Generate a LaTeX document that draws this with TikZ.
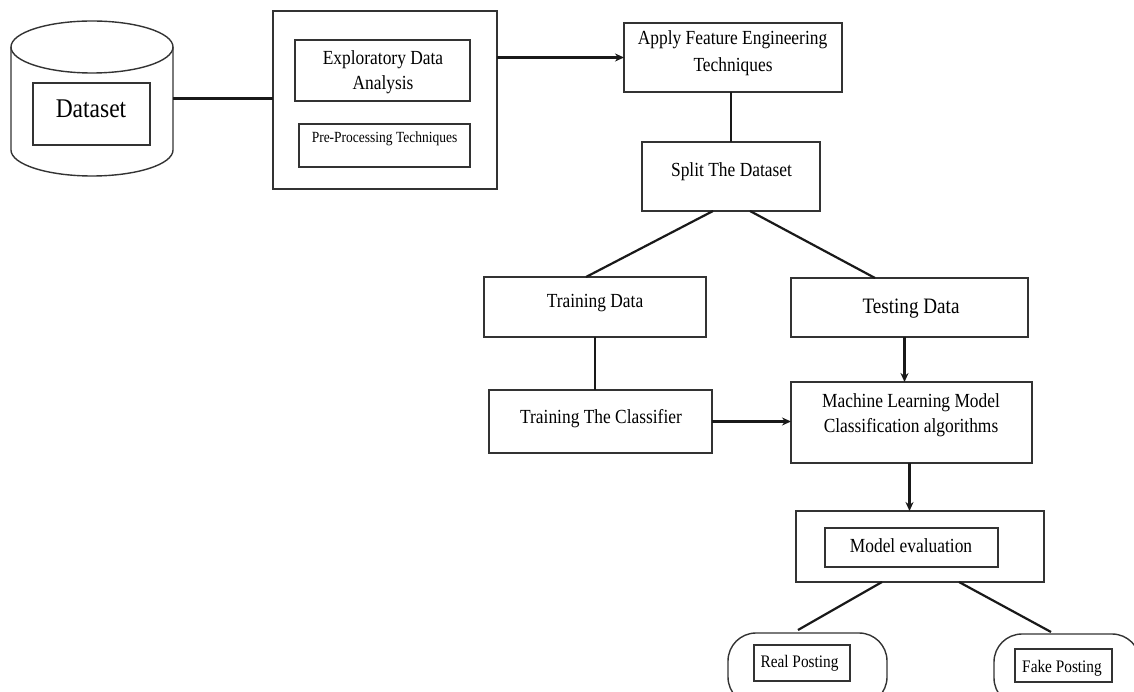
\documentclass[tikz,border=0pt]{standalone}
\usepackage{fontspec}
\setmainfont{Liberation Serif}[FakeStretch=0.87]
\usetikzlibrary{calc,arrows.meta}
\begin{document}
\begin{tikzpicture}[x=1pt,y=-1pt,
  box/.style={draw=black!80, line width=1.4pt, inner sep=0pt, outer sep=0pt},
  hidden/.style={inner sep=0pt, outer sep=0pt},
  lbl/.style={inner sep=0pt, anchor=base, font=\fontsize{20}{25}\selectfont},
  conn/.style={line width=2.2pt, draw=black!90},
  arr/.style={conn, -{Stealth[length=9pt,width=8pt]}}]

\clip (0,0) rectangle (1134,692);
\fill[white] (0,0) rectangle (1134,692);

% database cylinder
\node[hidden, minimum width=162pt, minimum height=155pt] (db) at (92,98.5) {};
\draw[box] (92,47) ellipse [x radius=81, y radius=26];
\draw[box] (11,47) -- (11,150)
  .. controls (11,164.36) and (47.3,176) .. (92,176)
  .. controls (136.7,176) and (173,164.36) .. (173,150) -- (173,47);
\node[box, minimum width=117pt, minimum height=62pt] (dsin) at (91.5,114) {};
\node[lbl, font=\fontsize{27}{30}\selectfont] (tds) at (91,118) {Dataset};

% EDA block
\node[box, minimum width=224pt, minimum height=178pt] (edaouter) at (385,100) {};
\node[box, minimum width=175pt, minimum height=61pt] (eda) at (382.5,70.5) {};
\node[lbl] (teda1) at (383,65) {Exploratory Data};
\node[lbl] (teda2) at (383,90) {Analysis};
\node[box, minimum width=171pt, minimum height=43pt] (pre) at (384.5,145.5) {};
\node[lbl, font=\fontsize{15.5}{18}\selectfont] (tpre) at (384.5,143) {Pre-Processing Techniques};

% feature engineering
\node[box, minimum width=218pt, minimum height=69pt] (afe) at (733,57.5) {};
\node[lbl] (tafe1) at (732.5,45) {Apply Feature Engineering};
\node[lbl] (tafe2) at (733,72) {Techniques};

% split
\node[box, minimum width=178pt, minimum height=69pt] (split) at (731,176.5) {};
\node[lbl] (tsplit) at (731.5,177) {Split The Dataset};

% training / testing
\node[box, minimum width=222pt, minimum height=60pt] (train) at (595,307) {};
\node[lbl] (ttrain) at (595,308) {Training Data};
\node[box, minimum width=237pt, minimum height=59pt] (test) at (909.5,307.5) {};
\node[lbl, font=\fontsize{22}{26}\selectfont] (ttest) at (911,313) {Testing Data};

% classifier and model
\node[box, minimum width=223pt, minimum height=63pt] (clf) at (600.5,421.5) {};
\node[lbl] (tclf) at (601,423) {Training The Classifier};
\node[box, minimum width=241pt, minimum height=81pt] (ml) at (911.5,422.5) {};
\node[lbl] (tml1) at (911,407) {Machine Learning Model};
\node[lbl] (tml2) at (911,432) {Classification algorithms};

% evaluation
\node[box, minimum width=248pt, minimum height=71pt] (meo) at (920,546.5) {};
\node[box, minimum width=173pt, minimum height=39pt] (me) at (911.5,547.5) {};
\node[lbl] (tme) at (911,552) {Model evaluation};

% outcomes
\node[box, rounded corners=28pt, minimum width=159pt, minimum height=72pt] (real) at (807.5,669) {};
\node[box, minimum width=96pt, minimum height=36pt] (realin) at (802,663) {};
\node[lbl, font=\fontsize{17.6}{20}\selectfont] (treal) at (799.5,667) {Real Posting};
\node[box, rounded corners=28pt, minimum width=146pt, minimum height=72pt] (fake) at (1067,670) {};
\node[box, minimum width=97pt, minimum height=33pt] (fakein) at (1063.5,665.5) {};
\node[lbl, font=\fontsize{17.6}{20}\selectfont] (tfake) at (1062,672) {Fake Posting};

% connectors
\draw[conn] (db.east) -- (db.east -| edaouter.west);
\draw[arr] (edaouter.east |- afe.west) -- (afe.west);
\draw[conn] (afe.south -| split.north) -- (split.north);
\draw[conn] ($(split.south)+(-18,0)$) -- ($(train.north)+(-9,0)$);
\draw[conn] ($(split.south)+(19,0)$) -- ($(test.north)+(-34.5,0)$);
\draw[conn] (train.south) -- (train.south |- clf.north);
\draw[arr] (clf.east) -- (clf.east -| ml.west);
\draw[arr] ($(test.south)+(-5,0)$) -- ($(test.south |- ml.north)+(-5,0)$);
\draw[arr] ($(ml.south)+(-2,0)$) -- ($(ml.south |- meo.north)+(-2,0)$);
\draw[conn] ($(meo.south)+(-38,0)$) -- ($(real.north)+(-9.5,-3)$);
\draw[conn] ($(meo.south)+(39,0)$) -- ($(fake.north)+(-16,-2)$);
\end{tikzpicture}
\end{document}
